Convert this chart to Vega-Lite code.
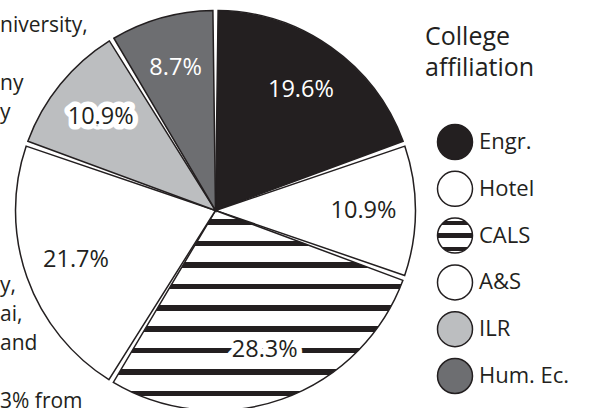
{
  "$schema": "https://vega.github.io/schema/vega-lite/v6.json",
  "padding": 0,
  "spacing": 24,
  "bounds": "flush",
  "background": "white",
  "config": {"view": {"stroke": null}, "font": "Open Sans"},
  "datasets": {
    "slices": [
      {"college": "Engr.", "share": 0.196, "ord": 1},
      {"college": "Hotel", "share": 0.109, "ord": 2},
      {"college": "CALS", "share": 0.283, "ord": 3},
      {"college": "A&S", "share": 0.217, "ord": 4},
      {"college": "ILR", "share": 0.109, "ord": 5},
      {"college": "Hum. Ec.", "share": 0.087, "ord": 6}
    ],
    "notes": [
      {"note": "niversity,", "line": 1},
      {"note": "ny", "line": 3},
      {"note": "y", "line": 4},
      {"note": "y,", "line": 10},
      {"note": "ai,", "line": 11},
      {"note": "and", "line": 12},
      {"note": "3% from", "line": 14}
    ]
  },
  "hconcat": [
    {
      "width": 431,
      "height": 421,
      "layer": [
        {
          "data": {"name": "slices"},
          "mark": {"type": "arc", "outerRadius": 200, "padAngle": 0.026, "stroke": "#231f20", "strokeWidth": 1.5},
          "encoding": {
            "theta": {"field": "share", "type": "quantitative", "stack": true},
            "order": {"field": "ord", "type": "quantitative"},
            "fill": {
              "condition": {
                "test": "datum.college === 'CALS'",
                "value": {
                  "gradient": "linear", "x1": 0, "y1": 0, "x2": 0, "y2": 1,
                  "stops": [
                    {"offset": 0, "color": "white"},
                    {"offset": 0.0437, "color": "white"}, {"offset": 0.0437, "color": "#231f20"}, {"offset": 0.0711, "color": "#231f20"}, {"offset": 0.0711, "color": "white"},
                    {"offset": 0.1509, "color": "white"}, {"offset": 0.1509, "color": "#231f20"}, {"offset": 0.1783, "color": "#231f20"}, {"offset": 0.1783, "color": "white"},
                    {"offset": 0.2581, "color": "white"}, {"offset": 0.2581, "color": "#231f20"}, {"offset": 0.2855, "color": "#231f20"}, {"offset": 0.2855, "color": "white"},
                    {"offset": 0.3654, "color": "white"}, {"offset": 0.3654, "color": "#231f20"}, {"offset": 0.3928, "color": "#231f20"}, {"offset": 0.3928, "color": "white"},
                    {"offset": 0.4726, "color": "white"}, {"offset": 0.4726, "color": "#231f20"}, {"offset": 0.5000, "color": "#231f20"}, {"offset": 0.5000, "color": "white"},
                    {"offset": 0.5798, "color": "white"}, {"offset": 0.5798, "color": "#231f20"}, {"offset": 0.6072, "color": "#231f20"}, {"offset": 0.6072, "color": "white"},
                    {"offset": 0.6870, "color": "white"}, {"offset": 0.6870, "color": "#231f20"}, {"offset": 0.7144, "color": "#231f20"}, {"offset": 0.7144, "color": "white"},
                    {"offset": 0.7943, "color": "white"}, {"offset": 0.7943, "color": "#231f20"}, {"offset": 0.8217, "color": "#231f20"}, {"offset": 0.8217, "color": "white"},
                    {"offset": 0.9015, "color": "white"}, {"offset": 0.9015, "color": "#231f20"}, {"offset": 0.9289, "color": "#231f20"}, {"offset": 0.9289, "color": "white"},
                    {"offset": 1, "color": "white"}
                  ]
                }
              },
              "field": "college",
              "type": "nominal",
              "scale": {
                "domain": ["Engr.", "Hotel", "CALS", "A&S", "ILR", "Hum. Ec."],
                "range": ["#231f20", "#ffffff", "#ffffff", "#ffffff", "#bcbec0", "#6d6e71"]
              },
              "legend": null
            }
          }
        },
        {
          "data": {"name": "slices"},
          "mark": {"type": "text", "radius": 148, "font": "Open Sans", "fontSize": 23.5, "fill": "white", "stroke": "white", "strokeWidth": 11, "strokeJoin": "round"},
          "encoding": {
            "theta": {"field": "share", "type": "quantitative", "stack": true},
            "order": {"field": "ord", "type": "quantitative"},
            "text": {"field": "share", "type": "quantitative", "format": ".1%"},
            "opacity": {"condition": {"test": "datum.college === 'Engr.' || datum.college === 'Hum. Ec.'", "value": 0}, "value": 1}
          }
        },
        {
          "data": {"name": "slices"},
          "mark": {"type": "text", "radius": 148, "font": "Open Sans", "fontSize": 23.5},
          "encoding": {
            "theta": {"field": "share", "type": "quantitative", "stack": true},
            "order": {"field": "ord", "type": "quantitative"},
            "text": {"field": "share", "type": "quantitative", "format": ".1%"},
            "fill": {"condition": {"test": "datum.college === 'Engr.' || datum.college === 'Hum. Ec.'", "value": "white"}, "value": "#231f20"}
          }
        },
        {
          "data": {"name": "notes"},
          "mark": {"type": "text", "align": "left", "baseline": "alphabetic", "font": "Open Sans", "fontSize": 21, "fill": "#231f20"},
          "encoding": {
            "x": {"datum": 0, "type": "quantitative", "scale": {"domain": [0, 1], "nice": false}, "axis": null},
            "y": {"field": "line", "type": "quantitative", "scale": {"domain": [0, 14], "range": [3, 408], "nice": false, "zero": false}, "axis": null},
            "text": {"field": "note", "type": "nominal"}
          }
        }
      ]
    },
    {
      "width": 110,
      "height": 421,
      "layer": [
        {
          "data": {"name": "slices"},
          "mark": {"type": "point", "shape": "circle", "filled": true, "opacity": 1, "size": 1225, "stroke": "#231f20", "strokeWidth": 1.5},
          "encoding": {
            "x": {"datum": 0, "type": "quantitative", "scale": {"domain": [0, 1], "nice": false}, "axis": null},
            "y": {"field": "ord", "type": "quantitative", "scale": {"domain": [-2.034, 6.962], "reverse": true, "nice": false, "zero": false}, "axis": null},
            "fill": {
              "condition": {
                "test": "datum.college === 'CALS'",
                "value": {
                  "gradient": "linear", "x1": 0, "y1": 0, "x2": 0, "y2": 1,
                  "stops": [
                    {"offset": 0, "color": "white"},
                    {"offset": 0.07, "color": "white"}, {"offset": 0.07, "color": "#231f20"}, {"offset": 0.2, "color": "#231f20"}, {"offset": 0.2, "color": "white"},
                    {"offset": 0.43, "color": "white"}, {"offset": 0.43, "color": "#231f20"}, {"offset": 0.57, "color": "#231f20"}, {"offset": 0.57, "color": "white"},
                    {"offset": 0.82, "color": "white"}, {"offset": 0.82, "color": "#231f20"}, {"offset": 0.95, "color": "#231f20"}, {"offset": 0.95, "color": "white"},
                    {"offset": 1, "color": "white"}
                  ]
                }
              },
              "field": "college",
              "type": "nominal",
              "scale": {
                "domain": ["Engr.", "Hotel", "CALS", "A&S", "ILR", "Hum. Ec."],
                "range": ["#231f20", "#ffffff", "#ffffff", "#ffffff", "#bcbec0", "#6d6e71"]
              },
              "legend": null
            }
          }
        },
        {
          "data": {"name": "slices"},
          "mark": {"type": "text", "align": "left", "baseline": "middle", "dx": 24, "font": "Open Sans", "fontSize": 22, "fill": "#231f20"},
          "encoding": {
            "x": {"datum": 0, "type": "quantitative", "scale": {"domain": [0, 1], "nice": false}, "axis": null},
            "y": {"field": "ord", "type": "quantitative", "scale": {"domain": [-2.034, 6.962], "reverse": true, "nice": false, "zero": false}, "axis": null},
            "text": {"field": "college", "type": "nominal"}
          }
        },
        {
          "data": {"values": [{"heading": "College affiliation"}]},
          "mark": {"type": "text", "align": "left", "baseline": "alphabetic", "dx": -30, "font": "Open Sans", "fontSize": 25, "lineHeight": 31, "fill": "#231f20", "text": ["College", "affiliation"]},
          "encoding": {
            "x": {"datum": 0, "type": "quantitative", "scale": {"domain": [0, 1], "nice": false}, "axis": null},
            "y": {"datum": -1.073, "type": "quantitative", "scale": {"domain": [-2.034, 6.962], "reverse": true, "nice": false, "zero": false}, "axis": null}
          }
        }
      ]
    }
  ]
}
